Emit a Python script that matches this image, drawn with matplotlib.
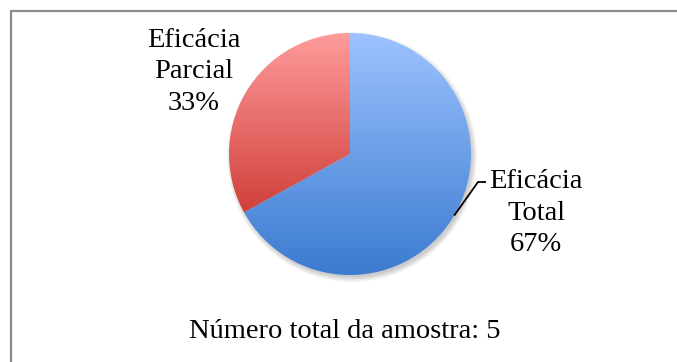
import numpy as np
import matplotlib.pyplot as plt
from matplotlib.patches import Circle
from matplotlib.colors import LinearSegmentedColormap

labels = ["Eficácia Total", "Eficácia Parcial"]
percents = [67, 33]
sample_size = 5

# light (top) -> dark (bottom) shades for each slice
top_colors = ["#9dc3ff", "#ff9c9c"]
bottom_colors = ["#3b7bd0", "#d0403b"]

W, H = 677, 362
fig = plt.figure(figsize=(W / 100, H / 100), dpi=100)
ax = fig.add_axes([0, 0, 1, 1])
serif = "Liberation Serif"

cx, cy, r = 350, H - 154, 121

# soft drop shadow under the pie
for k in range(6):
    ax.add_patch(Circle((cx + 2, cy - 3), r + 4 - k, color="black",
                        alpha=0.035, lw=0, zorder=1))

wedges, _ = ax.pie(percents, startangle=90, counterclock=False,
                   center=(cx, cy), radius=r, frame=False,
                   wedgeprops=dict(lw=0))

for w, c0, c1 in zip(wedges, top_colors, bottom_colors):
    cmap = LinearSegmentedColormap.from_list("g", [c1, c0])
    grad = np.linspace(0, 1, 256).reshape(-1, 1)
    # gradient spans each slice's own vertical extent
    verts = w.get_path().vertices
    y_lo, y_hi = verts[:, 1].min(), verts[:, 1].max()
    im = ax.imshow(grad, cmap=cmap, origin="lower", aspect="auto",
                   extent=(cx - r, cx + r, y_lo, y_hi), zorder=2)
    im.set_clip_path(w)
    w.set_facecolor("none")

# leader line for the big slice
tot = wedges[0]
mid = np.deg2rad((tot.theta1 + tot.theta2) / 2)
x0, y0 = cx + r * np.cos(mid), cy + r * np.sin(mid)
ax.plot([x0, 478, 486], [y0, H - 182, H - 182], color="black", lw=1.3,
        zorder=3, solid_capstyle="butt")

label_pos = [(536, H - 213), (194, H - 72)]
for name, pct, (lx, ly) in zip(labels, percents, label_pos):
    first, second = name.split(" ")
    ax.text(lx, ly, f"{first}\n{second}\n{pct}%", ha="center", va="center",
            fontsize=20.5, family=serif, linespacing=1.32, zorder=4)

ax.text(345, H - 331, f"Número total da amostra: {sample_size}",
        ha="center", va="center", fontsize=20.5, family=serif)

# chart frame (right and bottom edges fall outside the canvas)
ax.plot([10.5, 10.5, W], [0, H - 11, H - 11], color="#8a8a8a",
        lw=1.6, zorder=5, solid_capstyle="butt")

ax.set_xlim(0, W)
ax.set_ylim(0, H)
ax.set_aspect("auto")
ax.axis("off")

fig.savefig("out.png", dpi=100)
